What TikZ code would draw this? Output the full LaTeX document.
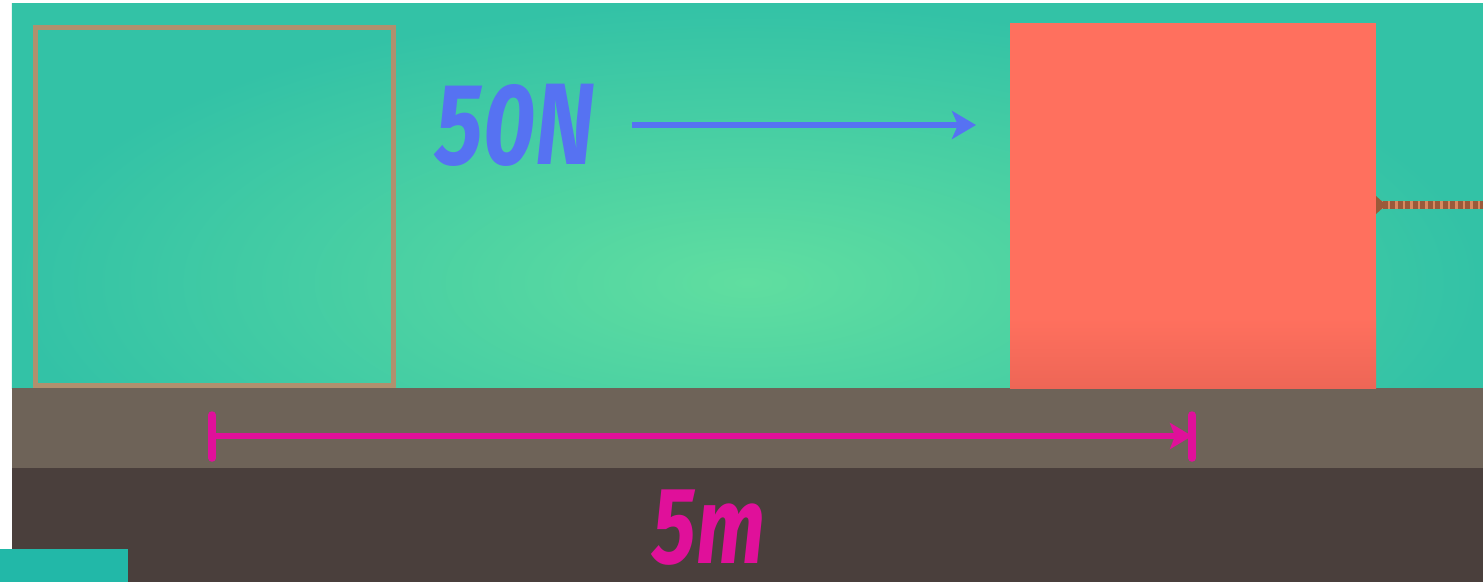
\documentclass[tikz,border=0pt]{standalone}
\usepackage{fontspec}
\newfontfamily\labfont{Fira Sans}
\usetikzlibrary{arrows.meta}
\definecolor{bgEdge}{HTML}{33C2A6}
\definecolor{bgMid}{HTML}{60DEA0}
\definecolor{groundC}{HTML}{6E6358}
\definecolor{darkC}{HTML}{4A3F3C}
\definecolor{outlineC}{HTML}{B0906E}
\definecolor{redC}{HTML}{FF705E}
\definecolor{redD}{HTML}{EE6656}
\definecolor{blueC}{HTML}{5672F2}
\definecolor{magC}{HTML}{E0109A}
\definecolor{ropeA}{HTML}{9A5A3A}
\definecolor{ropeB}{HTML}{D88A60}
\definecolor{cornerC}{HTML}{22B8A8}
\tikzset{
  lab/.style={font=\labfont\bfseries\itshape\fontsize{33}{33}\selectfont, inner sep=0pt, text depth=0pt},
  force/.style={draw=blueC, line width=0.06cm, -{Stealth[length=0.24cm,width=0.28cm,inset=0.06cm]}},
  meas/.style={draw=magC, line width=0.065cm, -{Stealth[length=0.22cm,width=0.26cm,inset=0.05cm]}},
  endbar/.style={draw=magC, line width=0.075cm, line cap=round},
}
\begin{document}
\begin{tikzpicture}
\useasboundingbox (0,0) rectangle (14.83,5.82);
\fill[white] (0,0) rectangle (14.83,5.82);
% background
\begin{scope}
\clip (0.12,1.94) rectangle (14.83,5.79);
\shade[inner color=bgMid, outer color=bgEdge] (0.12,0.2) rectangle (14.83,5.79);
\end{scope}
% ground
\fill[groundC] (0.12,1.14) rectangle (14.83,1.94);
\fill[darkC] (0.12,0) rectangle (14.83,1.14);
\fill[cornerC] (0,0) rectangle (1.28,0.33);
% ghost box
\draw[outlineC, line width=0.05cm] (0.355,1.97) rectangle (3.93,5.55);
% red box
\fill[redC] (10.10,1.94) rectangle (13.76,5.59);
\shade[top color=redC, bottom color=redD] (10.10,1.94) rectangle (13.76,2.65);
\node (box) at (11.93,3.765) [minimum width=3.66cm, minimum height=3.65cm, inner sep=0pt] {};
% rope
\coordinate (r0) at (13.80,3.77);
\coordinate (r1) at (14.83,3.77);
\draw[ropeA, line width=0.08cm] (r0) -- (r1);
\draw[ropeB, line width=0.08cm, dash pattern=on 0.025cm off 0.05cm] (r0) -- (r1);
\fill[ropeA] (13.76,3.86) -- (13.86,3.77) -- (13.76,3.68) -- cycle;
% force
\node[lab, text=blueC, xscale=0.78] (fN) at (5.15,4.58) {50N};
\coordinate (f0) at (6.32,4.57);
\coordinate (f1) at (9.76,4.57);
\draw[force] (f0) -- (f1);
% measurement
\coordinate (m0) at (2.12,1.46);
\coordinate (m1) at (11.92,1.46);
\coordinate (b0t) at (2.12,1.67);
\coordinate (b0b) at (2.12,1.24);
\coordinate (b1t) at (11.92,1.67);
\coordinate (b1b) at (11.92,1.24);
\draw[endbar] (b0t) -- (b0b);
\draw[endbar] (b1t) -- (b1b);
\draw[meas] (m0) -- (m1);
\node[lab, text=magC, xscale=0.76, font=\labfont\bfseries\itshape\fontsize{31}{31}\selectfont] (dist) at (7.09,0.55) {5m};
\end{tikzpicture}
\end{document}
